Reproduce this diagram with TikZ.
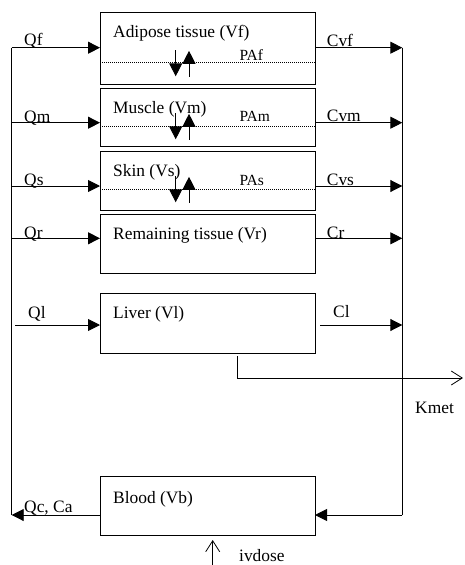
\documentclass[tikz,border=0pt]{standalone}
\usepackage{fontspec}
\setmainfont{Liberation Serif}
\usetikzlibrary{arrows.meta}
\tikzset{
  box/.style={draw, line width=1pt, minimum width=215pt, anchor=north west, inner sep=0pt, outer sep=0pt},
  lbl/.style={anchor=base west, inner sep=0pt, font=\fontsize{17.4}{20}\selectfont},
  pa/.style={anchor=base west, inner sep=0pt, font=\fontsize{15.5}{18}\selectfont},
  conn/.style={line width=0.9pt},
  flow/.style={conn, -{Triangle[length=12pt,width=12pt]}},
  openarr/.style={conn, -{Straight Barb[length=11pt,width=14pt,line width=0.8pt]}},
  exch/.style={line width=0.9pt, -{Triangle[length=13pt,width=13pt]}},
  dotline/.style={line width=0.7pt, dash pattern=on 1pt off 1pt}
}
\begin{document}
\begin{tikzpicture}[x=1pt,y=-1pt]
\useasboundingbox (0,0) rectangle (464,565);
% boxes
\node[box, minimum height=71.3pt] (adi) at (100,12.7) {};
\node[box, minimum height=58.4pt] (mus) at (100,88.3) {};
\node[box, minimum height=59pt] (skin) at (100,151.7) {};
\node[box, minimum height=59.3pt] (rem) at (100,214) {};
\node[box, minimum height=60pt] (liv) at (100,293) {};
\node[box, minimum height=59pt] (blood) at (100,476) {};
% titles
\node[lbl] (tadi) at (113,37.7) {Adipose tissue (Vf)};
\node[lbl] (tmus) at (113,113.3) {Muscle (Vm)};
\node[lbl] (tskin) at (113,176.7) {Skin (Vs)};
\node[lbl] (trem) at (113,239.3) {Remaining tissue (Vr)};
\node[lbl] (tliv) at (113,318.3) {Liver (Vl)};
\node[lbl] (tblood) at (113,503.3) {Blood (Vb)};
% dotted partitions
\coordinate (d1) at (0,62.7);
\coordinate (d2) at (0,126);
\coordinate (d3) at (0,189.3);
\draw[dotline] (adi.west |- d1) -- (adi.east |- d1);
\draw[dotline] (mus.west |- d2) -- (mus.east |- d2);
\draw[dotline] (skin.west |- d3) -- (skin.east |- d3);
\node[pa] (paf) at (239.3,60) {PAf};
\node[pa] (pam) at (239.3,121.7) {PAm};
\node[pa] (pas) at (239.3,185) {PAs};
% exchange arrows
\foreach \c/\n in {63.3/a,126.3/b,189.3/c}{
  \coordinate (dn\n top) at (175.7,\c-13);
  \coordinate (dn\n bot) at (175.7,\c+13);
  \coordinate (up\n top) at (189,\c-12.5);
  \coordinate (up\n bot) at (189,\c+13.3);
  \draw[exch] (dn\n top) -- (dn\n bot);
  \draw[exch] (up\n bot) -- (up\n top);
}
% collectors
\coordinate (L1) at (11.7,47.7);
\coordinate (L2) at (11.7,122.7);
\coordinate (L3) at (11.7,186);
\coordinate (L4) at (11.7,238.3);
\coordinate (L6) at (11.7,515);
\coordinate (R1) at (402.3,47.7);
\coordinate (R2) at (402.3,122.7);
\coordinate (R3) at (402.3,186);
\coordinate (R4) at (402.3,238.3);
\coordinate (R5) at (402.3,325);
\coordinate (R6) at (402.3,515);
\coordinate (qls) at (15,325);
\coordinate (cls) at (320,325);
\draw[conn] (L1) -- (L6);
\draw[conn] (R1) -- (R6);
% arterial inflows
\draw[flow] (L1) -- (L1 -| adi.west);
\draw[flow] (L2) -- (L2 -| mus.west);
\draw[flow] (L3) -- (L3 -| skin.west);
\draw[flow] (L4) -- (L4 -| rem.west);
\draw[flow] (qls) -- (qls -| liv.west);
% venous outflows
\draw[flow] (adi.east |- R1) -- (R1);
\draw[flow] (mus.east |- R2) -- (R2);
\draw[flow] (skin.east |- R3) -- (R3);
\draw[flow] (rem.east |- R4) -- (R4);
\draw[flow] (cls) -- (R5);
% blood
\draw[flow] (R6) -- (R6 -| blood.east);
\draw[flow] (blood.west |- L6) -- (L6);
% labels
\node[lbl] (qf) at (24,45) {Qf};
\node[lbl] (qm) at (24,122) {Qm};
\node[lbl] (qs) at (24,185) {Qs};
\node[lbl] (qr) at (24,238) {Qr};
\node[lbl] (ql) at (28,318) {Ql};
\node[lbl] (cvf) at (326.7,46) {Cvf};
\node[lbl] (cvm) at (326.7,121.7) {Cvm};
\node[lbl] (cvs) at (326.7,185) {Cvs};
\node[lbl] (cr) at (326.7,238) {Cr};
\node[lbl] (cl) at (333,317) {Cl};
\node[lbl] (qcca) at (24,512.7) {Qc, Ca};
% metabolism
\coordinate (km0) at (237,356);
\coordinate (km1) at (463,378);
\draw[openarr] (km0) |- (km1);
\node[lbl] (kmet) at (415,413) {Kmet};
% iv dose
\coordinate (iv0) at (212.7,565);
\coordinate (iv1) at (212.7,540);
\draw[openarr] (iv0) -- (iv1);
\node[lbl] (ivd) at (239,561) {ivdose};
\end{tikzpicture}
\end{document}
